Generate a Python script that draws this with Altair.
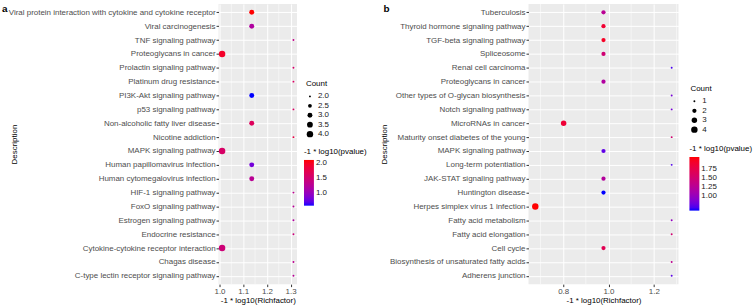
import altair as alt
import pandas as pd

FONT = "Liberation Sans"

# ---------------- Panel a data ----------------
terms_a = [
    "Viral protein interaction with cytokine and cytokine receptor",
    "Viral carcinogenesis",
    "TNF signaling pathway",
    "Proteoglycans in cancer",
    "Prolactin signaling pathway",
    "Platinum drug resistance",
    "PI3K-Akt signaling pathway",
    "p53 signaling pathway",
    "Non-alcoholic fatty liver disease",
    "Nicotine addiction",
    "MAPK signaling pathway",
    "Human papillomavirus infection",
    "Human cytomegalovirus infection",
    "HIF-1 signaling pathway",
    "FoxO signaling pathway",
    "Estrogen signaling pathway",
    "Endocrine resistance",
    "Cytokine-cytokine receptor interaction",
    "Chagas disease",
    "C-type lectin receptor signaling pathway",
]
count_a = [3, 3, 2, 4, 2, 2, 3, 2, 3, 2, 4, 3, 3, 2, 2, 2, 2, 4, 2, 2]
rich_a = [1.136, 1.136, 1.312, 1.011, 1.312, 1.312, 1.136, 1.312, 1.136, 1.312,
          1.011, 1.136, 1.136, 1.312, 1.312, 1.312, 1.312, 1.011, 1.312, 1.312]
logp_a = [2.11, 1.19, 1.35, 1.96, 1.55, 1.60, 0.58, 1.60, 1.65, 1.80,
          1.58, 0.81, 1.27, 1.30, 1.25, 1.20, 1.45, 1.47, 1.30, 1.25]
xticks_a = [1.0, 1.1, 1.2, 1.3]
xminor_a = [1.05, 1.15, 1.25]
size_ticks_a = [2.0, 2.5, 3.0, 3.5, 4.0]
color_ticks_a = [1.0, 1.5, 2.0]

# ---------------- Panel b data ----------------
terms_b = [
    "Tuberculosis",
    "Thyroid hormone signaling pathway",
    "TGF-beta signaling pathway",
    "Spliceosome",
    "Renal cell carcinoma",
    "Proteoglycans in cancer",
    "Other types of O-glycan biosynthesis",
    "Notch signaling pathway",
    "MicroRNAs in cancer",
    "Maturity onset diabetes of the young",
    "MAPK signaling pathway",
    "Long-term potentiation",
    "JAK-STAT signaling pathway",
    "Huntington disease",
    "Herpes simplex virus 1 infection",
    "Fatty acid metabolism",
    "Fatty acid elongation",
    "Cell cycle",
    "Biosynthesis of unsaturated fatty acids",
    "Adherens junction",
]
count_b = [2, 2, 2, 2, 1, 2, 1, 1, 3, 1, 2, 1, 2, 2, 4, 1, 1, 2, 1, 1]
rich_b = [0.978, 0.978, 0.978, 0.978, 1.279, 0.978, 1.279, 1.279, 0.802, 1.279,
          0.978, 1.279, 0.978, 0.978, 0.677, 1.279, 1.279, 0.978, 1.279, 1.279]
logp_b = [1.27, 1.87, 1.94, 1.48, 0.70, 1.20, 0.85, 0.85, 1.85, 1.50,
          0.76, 0.72, 1.22, 0.62, 2.06, 1.00, 1.50, 1.68, 1.30, 0.75]
xticks_b = [0.8, 1.0, 1.2]
xminor_b = [0.7, 0.9, 1.1, 1.3]
size_ticks_b = [1, 2, 3, 4]
color_ticks_b = [1.0, 1.25, 1.5, 1.75]


def expand(vals, mult=0.05):
    lo, hi = min(vals), max(vals)
    d = (hi - lo) * mult
    return [lo - d, hi + d]


def panel(letter, terms, counts, rich, logp, xticks, xminor, size_ticks, size_fmt,
          size_range, color_ticks, color_fmt, grad_len, width,
          size_pos, color_pos, letter_x):
    df = pd.DataFrame({"Description": terms, "Count": counts,
                       "Rich": rich, "logp": logp})
    xdom = expand(rich)
    xscale = alt.Scale(domain=xdom, nice=False, zero=False)
    xaxis = alt.Axis(values=xticks, format=".1f", labelFlush=False,
                     labelOverlap=False, title="-1 * log10(Richfactor)")
    cnt_dom = sorted(set(counts))

    minor = alt.Chart(pd.DataFrame({"v": xminor})).mark_rule(
        color="white", strokeWidth=0.5
    ).encode(x=alt.X("v:Q", scale=xscale, axis=xaxis,
                     title="-1 * log10(Richfactor)"))

    pts = alt.Chart(df).mark_circle(opacity=1).encode(
        x=alt.X("Rich:Q", scale=xscale, axis=xaxis,
                title="-1 * log10(Richfactor)"),
        y=alt.Y("Description:N", sort=terms, title="Description",
                scale=alt.Scale(padding=0.6),
                axis=alt.Axis(labelLimit=400)),
        size=alt.Size("Count:Q",
                      scale=alt.Scale(domain=cnt_dom, range=size_range),
                      legend=alt.Legend(title="Count", values=size_ticks,
                                        format=size_fmt, orient="none",
                                        legendX=size_pos[0], legendY=size_pos[1],
                                        symbolFillColor="black",
                                        symbolStrokeWidth=0, symbolOpacity=1,
                                        rowPadding=1.5, titlePadding=4)),
        color=alt.Color("logp:Q",
                        scale=alt.Scale(domain=[min(logp), max(logp)],
                                        range=["blue", "red"], interpolate="lab",
                                        nice=False, zero=False),
                        legend=alt.Legend(title="-1 * log10(pvalue)", type="gradient",
                                          values=color_ticks, format=color_fmt,
                                          orient="none",
                                          legendX=color_pos[0], legendY=color_pos[1],
                                          gradientLength=grad_len,
                                          gradientThickness=10,
                                          gradientStrokeWidth=0,
                                          titlePadding=4)),
    )

    lab = alt.Chart(pd.DataFrame({"t": [letter]})).mark_text(
        font=FONT, fontSize=10, fontWeight="bold", align="left",
        baseline="alphabetic", color="black"
    ).encode(text="t:N", x=alt.value(letter_x), y=alt.value(8))

    return alt.layer(minor, pts, lab).properties(width=width, height=282)


pa = panel("a", terms_a, count_a, rich_a, logp_a, xticks_a, xminor_a,
           size_ticks_a, ".1f", [3.8, 25, 42], color_ticks_a, ".1f", 46, 79,
           (88, 77), (86, 145), -218)
pb = panel("b", terms_b, count_b, rich_b, logp_b, xticks_b, xminor_b,
           size_ticks_b, "d", [3.8, 18, 30, 42], color_ticks_b, ".2f", 54, 151,
           (163, 82), (162, 142), -146)

chart = alt.hconcat(pa, pb, spacing=12).resolve_scale(
    x="independent", y="independent", color="independent", size="independent"
).properties(
    padding={"left": 2, "top": 2, "right": 0, "bottom": 0}
).configure_view(
    fill="#EBEBEB", stroke=None
).configure_axis(
    labelFont=FONT, labelFontSize=8, labelColor="#4D4D4D",
    titleFont=FONT, titleFontSize=8, titleFontWeight="normal", titleColor="black",
    tickColor="#333333", tickSize=2.5, labelPadding=1, titlePadding=1,
    domain=False, grid=True, gridColor="white", gridWidth=1,
    labelOverlap=False,
).configure_legend(
    labelFont=FONT, labelFontSize=8, labelColor="#1A1A1A",
    titleFont=FONT, titleFontSize=8, titleFontWeight="normal", titleColor="black",
    padding=0,
)

chart.save("out.html", embed_options={"renderer": "svg", "actions": False})
